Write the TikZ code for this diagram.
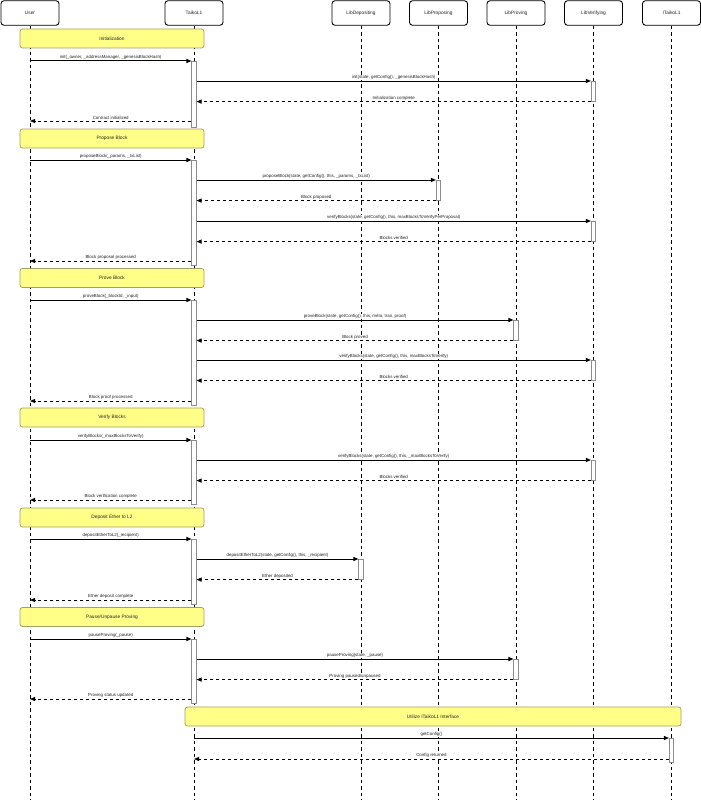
\documentclass[tikz,border=0pt]{standalone}
\usepackage{fontspec}
\setmainfont{Liberation Sans}
\usetikzlibrary{arrows.meta}
\definecolor{secfill}{HTML}{FFFF88}
\definecolor{secborder}{HTML}{A39E6A}
\definecolor{actgray}{HTML}{8C8C8C}
\definecolor{txtgray}{HTML}{222222}
\newcommand\tinyfnt{\fontsize{4.4}{5.3}\selectfont}
\newcommand\headfnt{\fontsize{4.8}{5.8}\selectfont}
\tikzset{
  actor/.style={draw, line width=0.9pt, rounded corners=3pt, fill=white, minimum width=58pt, minimum height=24.5pt, inner sep=0pt, font=\headfnt, text=txtgray},
  life/.style={line width=0.9pt, dash pattern=on 3.5pt off 3pt},
  sect/.style={draw=secborder, fill=secfill, line width=0.8pt, rounded corners=2.5pt, inner sep=0pt, font=\headfnt, text=txtgray},
  actbox/.style={draw=actgray, fill=white, line width=0.6pt, minimum width=4.5pt, inner sep=0pt, anchor=north},
  msg/.style={line width=1pt, -{Triangle[length=5pt,width=4pt]}},
  ret/.style={msg, dash pattern=on 3pt off 3pt},
  lbl/.style={font=\tinyfnt, fill=white, inner sep=0.4pt, text=txtgray, yshift=3.5pt, midway}
}
\begin{document}
\begin{tikzpicture}[x=1pt,y=-1pt]
\useasboundingbox (0,0) rectangle (701,800);
% actors
\node[actor] (user) at (30,13) {User};
\node[actor] (taiko) at (194,13) {TaikoL1};
\node[actor] (dep) at (361,13) {LibDepositing};
\node[actor] (prop) at (438.5,13) {LibProposing};
\node[actor] (prov) at (516,13) {LibProving};
\node[actor] (ver) at (593.5,13) {LibVerifying};
\node[actor] (itk) at (671.5,13) {ITaikoL1};
% lifelines
\foreach \n in {user,taiko,dep,prop,prov,ver,itk}{
  \coordinate (\n End) at (\n |- 0,800);
  \draw[life] (\n.south) -- (\n End);
}
% sections
\node[sect, minimum width=184pt, minimum height=19pt] (s1) at (112,38.5) {Initialization};
\node[sect, minimum width=184pt, minimum height=19pt] (s2) at (112,138.5) {Propose Block};
\node[sect, minimum width=184pt, minimum height=19pt] (s3) at (112,278) {Prove Block};
\node[sect, minimum width=184pt, minimum height=19pt] (s4) at (112,417.5) {Verify Blocks};
\node[sect, minimum width=184pt, minimum height=19pt] (s5) at (112,517.5) {Deposit Ether to L2};
\node[sect, minimum width=184pt, minimum height=19pt] (s6) at (112,617) {Pause/Unpause Proving};
\node[sect, minimum width=496pt, minimum height=19pt] (s7) at (433,716.5) {Utilize ITaikoL1 Interface};
% ---------- Initialization
\node[actbox, minimum height=66pt] (t1) at (194,61) {};
\node[actbox, minimum height=20pt] (v1) at (593.5,81) {};
\draw[msg] (user |- t1.north) -- node[lbl]{init(\_owner, \_addressManager, \_genesisBlockHash)} (t1.north west);
\draw[msg] (t1.east |- v1.north) -- node[lbl]{init(state, getConfig(), \_genesisBlockHash)} (v1.north west);
\draw[ret] (v1.south west) -- node[lbl]{Initialization complete} (t1.east |- v1.south);
\draw[ret] (t1.west |- 0,121) -- node[lbl]{Contract initialized} (user |- 0,121);
% ---------- Propose Block
\node[actbox, minimum height=105pt] (t2) at (194,160) {};
\node[actbox, minimum height=20pt] (p2) at (438.5,180) {};
\node[actbox, minimum height=20pt] (v2) at (593.5,221) {};
\draw[msg] (user |- t2.north) -- node[lbl]{proposeBlock(\_params, \_txList)} (t2.north west);
\draw[msg] (t2.east |- p2.north) -- node[lbl]{proposeBlock(state, getConfig(), this, \_params, \_txList)} (p2.north west);
\draw[ret] (p2.south west) -- node[lbl]{Block proposed} (t2.east |- p2.south);
\draw[msg] (t2.east |- v2.north) -- node[lbl]{verifyBlocks(state, getConfig(), this, maxBlocksToVerifyPerProposal)} (v2.north west);
\draw[ret] (v2.south west) -- node[lbl]{Blocks verified} (t2.east |- v2.south);
\draw[ret] (t2.west |- 0,261) -- node[lbl]{Block proposal processed} (user |- 0,261);
% ---------- Prove Block
\node[actbox, minimum height=105pt] (t3) at (194,300) {};
\node[actbox, minimum height=20pt] (r3) at (516,320) {};
\node[actbox, minimum height=20pt] (v3) at (593.5,360) {};
\draw[msg] (user |- t3.north) -- node[lbl]{proveBlock(\_blockId, \_input)} (t3.north west);
\draw[msg] (t3.east |- r3.north) -- node[lbl]{proveBlock(state, getConfig(), this, meta, tran, proof)} (r3.north west);
\draw[ret] (r3.south west) -- node[lbl]{Block proved} (t3.east |- r3.south);
\draw[msg] (t3.east |- v3.north) -- node[lbl]{verifyBlocks(state, getConfig(), this, maxBlocksToVerify)} (v3.north west);
\draw[ret] (v3.south west) -- node[lbl]{Blocks verified} (t3.east |- v3.south);
\draw[ret] (t3.west |- 0,401) -- node[lbl]{Block proof processed} (user |- 0,401);
% ---------- Verify Blocks
\node[actbox, minimum height=64pt] (t4) at (194,440) {};
\node[actbox, minimum height=20pt] (v4) at (593.5,460) {};
\draw[msg] (user |- t4.north) -- node[lbl]{verifyBlocks(\_maxBlocksToVerify)} (t4.north west);
\draw[msg] (t4.east |- v4.north) -- node[lbl]{verifyBlocks(state, getConfig(), this, \_maxBlocksToVerify)} (v4.north west);
\draw[ret] (v4.south west) -- node[lbl]{Blocks verified} (t4.east |- v4.south);
\draw[ret] (t4.west |- 0,500) -- node[lbl]{Block verification complete} (user |- 0,500);
% ---------- Deposit Ether
\node[actbox, minimum height=65pt] (t5) at (194,539) {};
\node[actbox, minimum height=20pt] (d5) at (361,559) {};
\draw[msg] (user |- t5.north) -- node[lbl]{depositEtherToL2(\_recipient)} (t5.north west);
\draw[msg] (t5.east |- d5.north) -- node[lbl]{depositEtherToL2(state, getConfig(), this, \_recipient)} (d5.north west);
\draw[ret] (d5.south west) -- node[lbl]{Ether deposited} (t5.east |- d5.south);
\draw[ret] (t5.west |- 0,600) -- node[lbl]{Ether deposit complete} (user |- 0,600);
% ---------- Pause/Unpause
\node[actbox, minimum height=64pt] (t6) at (194,639) {};
\node[actbox, minimum height=20pt] (r6) at (516,659) {};
\draw[msg] (user |- t6.north) -- node[lbl]{pauseProving(\_pause)} (t6.north west);
\draw[msg] (t6.east |- r6.north) -- node[lbl]{pauseProving(state, \_pause)} (r6.north west);
\draw[ret] (r6.south west) -- node[lbl]{Proving paused/unpaused} (t6.east |- r6.south);
\draw[ret] (t6.west |- 0,699) -- node[lbl]{Proving status updated} (user |- 0,699);
% ---------- ITaikoL1
\node[actbox, minimum height=24pt] (i7) at (671.5,738) {};
\draw[msg] (taiko |- i7.north) -- node[lbl]{getConfig()} (i7.north west);
\draw[ret] (i7.west |- 0,759) -- node[lbl]{Config returned} (taiko |- 0,759);
\end{tikzpicture}
\end{document}
